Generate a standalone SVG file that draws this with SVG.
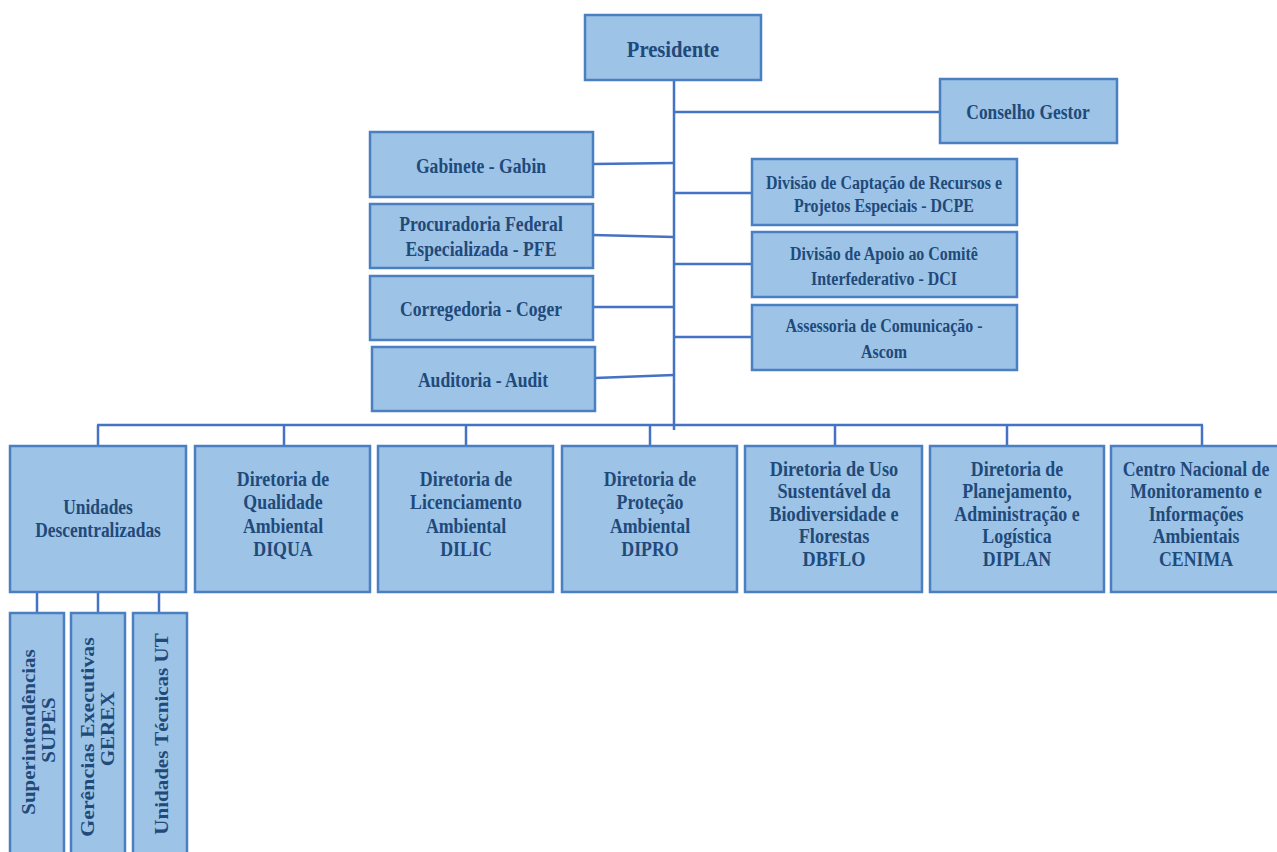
<svg xmlns="http://www.w3.org/2000/svg" width="1277" height="852" viewBox="0 0 1277 852">
<style>
.box{fill:#9dc3e6;stroke:#4a7fc1;stroke-width:2.5}
.t{font-family:"Liberation Serif","Times New Roman",serif;font-weight:bold;font-size:21px;fill:#1f4a7a;text-anchor:middle}
.s{font-size:19px}
.p{font-size:24px}
.c line{stroke:#4472c4;stroke-width:2.5}
</style>
<rect width="1277" height="852" fill="#ffffff"/>
<g class="c" id="connectors">
<line x1="674" y1="80" x2="674" y2="430"/>
<line x1="674" y1="112" x2="940" y2="112"/>
<line x1="593" y1="164" x2="674" y2="163"/>
<line x1="593" y1="235" x2="674" y2="237"/>
<line x1="593" y1="307" x2="674" y2="307"/>
<line x1="595" y1="378" x2="674" y2="375"/>
<line x1="674" y1="193" x2="752" y2="193"/>
<line x1="674" y1="264" x2="752" y2="264"/>
<line x1="674" y1="337" x2="752" y2="337"/>
<line x1="97" y1="425" x2="1203" y2="425"/>
<line x1="98" y1="425" x2="98" y2="446"/>
<line x1="284" y1="425" x2="284" y2="446"/>
<line x1="466" y1="425" x2="466" y2="446"/>
<line x1="650" y1="425" x2="650" y2="446"/>
<line x1="835" y1="425" x2="835" y2="446"/>
<line x1="1007" y1="425" x2="1007" y2="446"/>
<line x1="1202" y1="425" x2="1202" y2="446"/>
<line x1="37" y1="592" x2="37" y2="613"/>
<line x1="98" y1="592" x2="98" y2="613"/>
<line x1="159" y1="592" x2="159" y2="613"/>
</g>
<g id="presidente"><rect class="box" x="585" y="15" width="176" height="65"/><text class="t p" transform="translate(673,57) scale(.86 1)">Presidente</text></g>
<g id="conselho"><rect class="box" x="940" y="79" width="177" height="64"/><text class="t" transform="translate(1028,119) scale(.83 1)">Conselho Gestor</text></g>
<g id="gabin"><rect class="box" x="370" y="132" width="223" height="65"/><text class="t" transform="translate(481,173) scale(.84 1)">Gabinete - Gabin</text></g>
<g id="pfe"><rect class="box" x="370" y="204" width="223" height="64"/><text class="t" transform="translate(481,231) scale(.84 1)"><tspan x="0" y="0">Procuradoria Federal</tspan><tspan x="0" y="25">Especializada - PFE</tspan></text></g>
<g id="coger"><rect class="box" x="370" y="276" width="223" height="64"/><text class="t" transform="translate(481,316) scale(.84 1)">Corregedoria - Coger</text></g>
<g id="audit"><rect class="box" x="372" y="347" width="223" height="64"/><text class="t" transform="translate(483,387) scale(.84 1)">Auditoria - Audit</text></g>
<g id="dcpe"><rect class="box" x="752" y="159" width="265" height="66"/><text class="t s" transform="translate(884,189) scale(.84 1)"><tspan x="0" y="0">Divisão de Captação de Recursos e</tspan><tspan x="0" y="23">Projetos Especiais - DCPE</tspan></text></g>
<g id="dci"><rect class="box" x="752" y="232" width="265" height="65"/><text class="t s" transform="translate(884,260) scale(.84 1)"><tspan x="0" y="0">Divisão de Apoio ao Comitê</tspan><tspan x="0" y="25">Interfederativo - DCI</tspan></text></g>
<g id="ascom"><rect class="box" x="752" y="305" width="265" height="65"/><text class="t s" transform="translate(884,332) scale(.84 1)"><tspan x="0" y="0">Assessoria de Comunicação -</tspan><tspan x="0" y="26">Ascom</tspan></text></g>
<g id="unidades"><rect class="box" x="10" y="446" width="176" height="146"/><text class="t" transform="translate(98,514) scale(.83 1)"><tspan x="0" y="0">Unidades</tspan><tspan x="0" y="23">Descentralizadas</tspan></text></g>
<g id="diqua"><rect class="box" x="195" y="446" width="175" height="146"/><text class="t" transform="translate(283,486) scale(.85 1)"><tspan x="0" y="0">Diretoria de</tspan><tspan x="0" y="23.5">Qualidade</tspan><tspan x="0" y="47">Ambiental</tspan><tspan x="0" y="70.5">DIQUA</tspan></text></g>
<g id="dilic"><rect class="box" x="378" y="446" width="175" height="146"/><text class="t" transform="translate(466,486) scale(.85 1)"><tspan x="0" y="0">Diretoria de</tspan><tspan x="0" y="23.5">Licenciamento</tspan><tspan x="0" y="47">Ambiental</tspan><tspan x="0" y="70.5">DILIC</tspan></text></g>
<g id="dipro"><rect class="box" x="562" y="446" width="175" height="146"/><text class="t" transform="translate(650,486) scale(.85 1)"><tspan x="0" y="0">Diretoria de</tspan><tspan x="0" y="23.5">Proteção</tspan><tspan x="0" y="47">Ambiental</tspan><tspan x="0" y="70.5">DIPRO</tspan></text></g>
<g id="dbflo"><rect class="box" x="745" y="446" width="177" height="146"/><text class="t" transform="translate(834,476) scale(.87 1)"><tspan x="0" y="0">Diretoria de Uso</tspan><tspan x="0" y="22.5">Sustentável da</tspan><tspan x="0" y="45">Biodiversidade e</tspan><tspan x="0" y="67.5">Florestas</tspan><tspan x="0" y="90">DBFLO</tspan></text></g>
<g id="diplan"><rect class="box" x="930" y="446" width="174" height="146"/><text class="t" transform="translate(1017,476) scale(.85 1)"><tspan x="0" y="0">Diretoria de</tspan><tspan x="0" y="22.5">Planejamento,</tspan><tspan x="0" y="45">Administração e</tspan><tspan x="0" y="67.5">Logística</tspan><tspan x="0" y="90">DIPLAN</tspan></text></g>
<g id="cenima"><rect class="box" x="1111" y="446" width="168" height="146"/><text class="t" transform="translate(1196,476) scale(.845 1)"><tspan x="0" y="0">Centro Nacional de</tspan><tspan x="0" y="22.5">Monitoramento e</tspan><tspan x="0" y="45">Informações</tspan><tspan x="0" y="67.5">Ambientais</tspan><tspan x="0" y="90">CENIMA</tspan></text></g>
<g id="supes"><rect class="box" x="10" y="613" width="54" height="245"/><text class="t" transform="translate(35,732) rotate(-90) scale(1 .85)">Superintendências</text><text class="t" transform="translate(55,730) rotate(-90) scale(1 .85)">SUPES</text></g>
<g id="gerex"><rect class="box" x="71" y="613" width="54" height="245"/><text class="t" transform="translate(94,737) rotate(-90) scale(1.04 .85)">Gerências Executivas</text><text class="t" transform="translate(114,729) rotate(-90) scale(1 .85)">GEREX</text></g>
<g id="ut"><rect class="box" x="133" y="613" width="54" height="245"/><text class="t" transform="translate(168,734) rotate(-90) scale(1 .85)">Unidades Técnicas UT</text></g>
</svg>
